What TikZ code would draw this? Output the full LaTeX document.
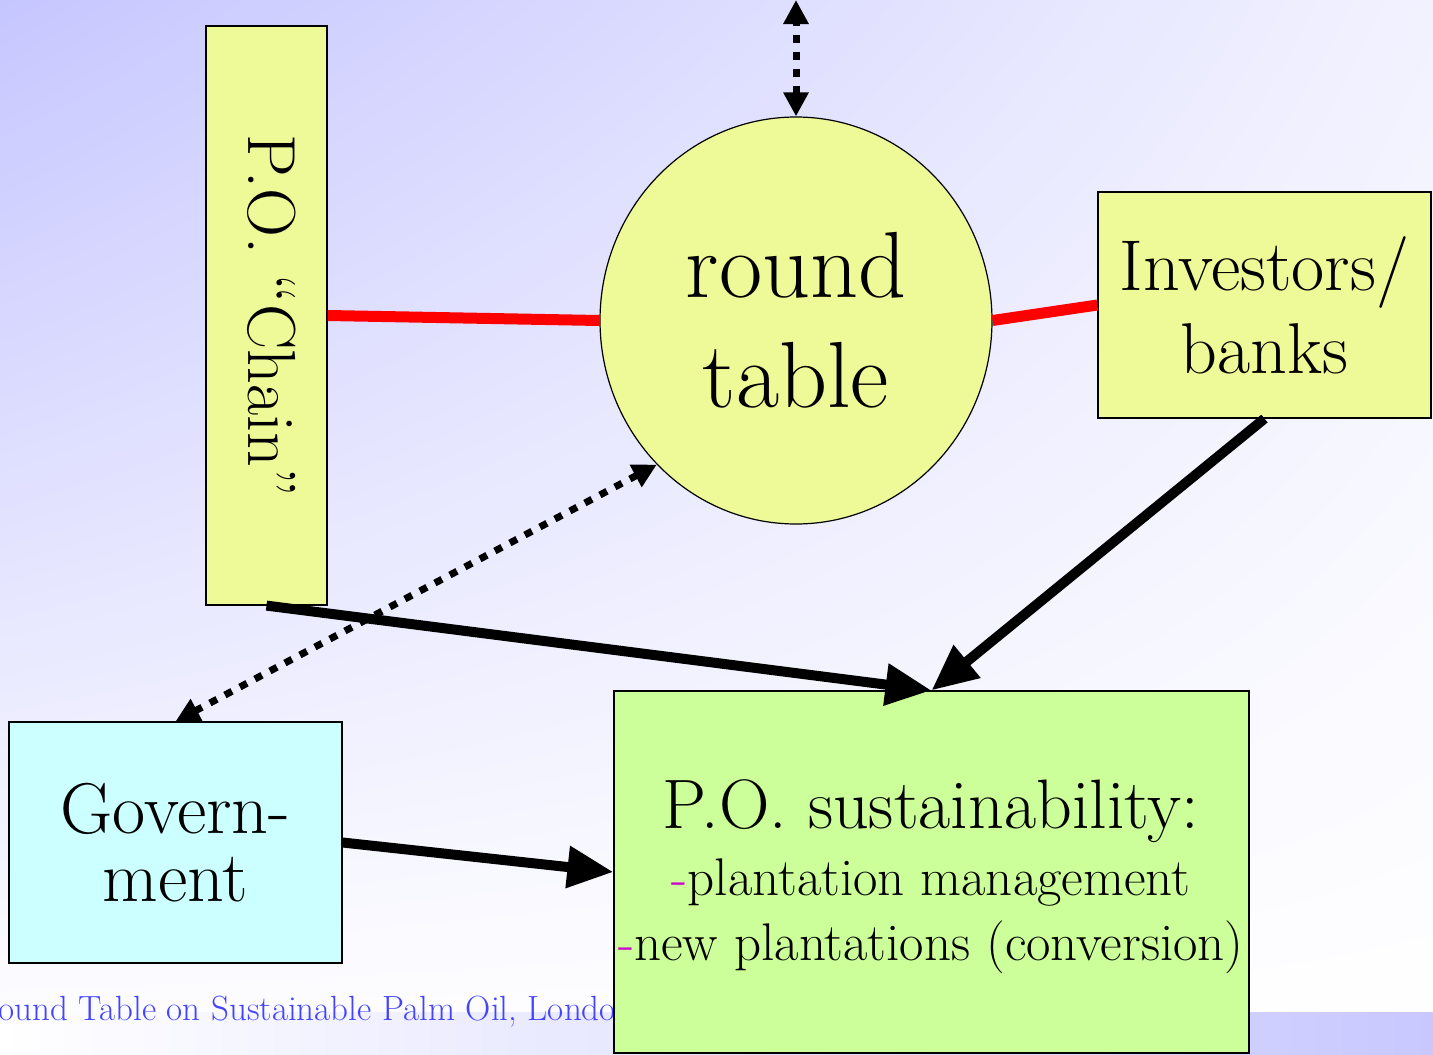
\documentclass[tikz,border=0pt]{standalone}
\usepackage{fontspec}
\usetikzlibrary{shapes.geometric,arrows.meta,shadings}
\definecolor{bgtopleft}{RGB}{198,198,255}
\definecolor{bgtopright}{RGB}{242,242,255}
\definecolor{bandblue}{RGB}{200,200,255}
\definecolor{footblue}{RGB}{68,68,255}
\definecolor{boxyellow}{RGB}{238,250,152}
\definecolor{govcyan}{RGB}{204,255,255}
\definecolor{susgreen}{RGB}{204,255,153}
\definecolor{dashpink}{RGB}{204,0,204}

\begin{document}
\begin{tikzpicture}[x=1pt, y=-1pt,
	 box/.style={draw, line width=1.2pt, inner sep=0pt},
	 redlink/.style={red, line width=11pt},
	 bigarrow/.style={line width=10pt, -{Triangle[length=46pt, width=40pt]}},
	 dotarrow/.style={line width=7pt, dash pattern=on 8pt off 9pt,
	 {Triangle[length=24pt, width=24pt]}-{Triangle[length=24pt, width=24pt]}}]
	 \useasboundingbox (0, 0) rectangle (1433, 1055);
	 \clip (0, 0) rectangle (1433, 1055);
	 \shade[upper left=bgtopleft, upper right=bgtopright, lower left=white, lower right=white] (0, 0) rectangle (1433, 1055);
	 \shade[left color=white, right color=bandblue] (0, 1012) rectangle (1433, 1055);
	 \node[anchor=base west, inner sep=0pt, text=footblue, font=\fontsize{35}{40}\selectfont] (foot) at (-25.5, 1020) {Round Table on Sustainable Palm Oil, London};
	 
	 \node[box, fill=boxyellow, minimum width=121pt, minimum height=579pt] (chain) at (266.5, 315.5) {};
	 \node[rotate=-90, font=\fontsize{68}{70}\selectfont] (chainlabel) at (272, 315.5) {P.O. “Chain”};
	 \node[ellipse, box, fill=boxyellow, minimum width=392pt, minimum height=407pt, align=center, font=\fontsize{94}{110}\selectfont] (circ) at (796, 320.5) {round\\table};
	 \node[box, fill=boxyellow, minimum width=333pt, minimum height=226pt, align=center, font=\fontsize{72}{83}\selectfont] (inv) at (1264.5, 305) {Investors/\\banks};
	 \node[box, fill=govcyan, minimum width=333pt, minimum height=241pt, align=center, font=\fontsize{72}{68}\selectfont] (gov) at (175.5, 842.5) {Govern-\\ment};
	 \node[box, fill=susgreen, minimum width=635pt, minimum height=362pt] (sus) at (931.5, 872) {};
	 \node[anchor=base, font=\fontsize{70}{70}\selectfont] (sustitle) at (931, 828) {P.O. sustainability:};
	 \node[anchor=base, font=\fontsize{53}{60}\selectfont] (susmgmt) at (931, 895) {\textcolor{dashpink}{-}plantation management};
	 \node[anchor=base, font=\fontsize{53}{60}\selectfont] (susnew) at (931, 960) {\textcolor{dashpink}{-}new plantations (conversion)};
	 
	 \draw[redlink] (chain.east) -- (circ.west);
	 \draw[redlink] (circ.east) -- (inv.west);
	 \draw[bigarrow] (chain.south) -- (sus.north);
	 \draw[bigarrow] (inv.south) -- (sus.north);
	 \draw[bigarrow] (gov.east) -- (sus.west);
	 \coordinate (topend) at (796, 0);
	 \draw[dotarrow] (circ.north) -- (topend);
	 \draw[dotarrow] (circ.226) -- (gov.north);
\end{tikzpicture}
\end{document}
